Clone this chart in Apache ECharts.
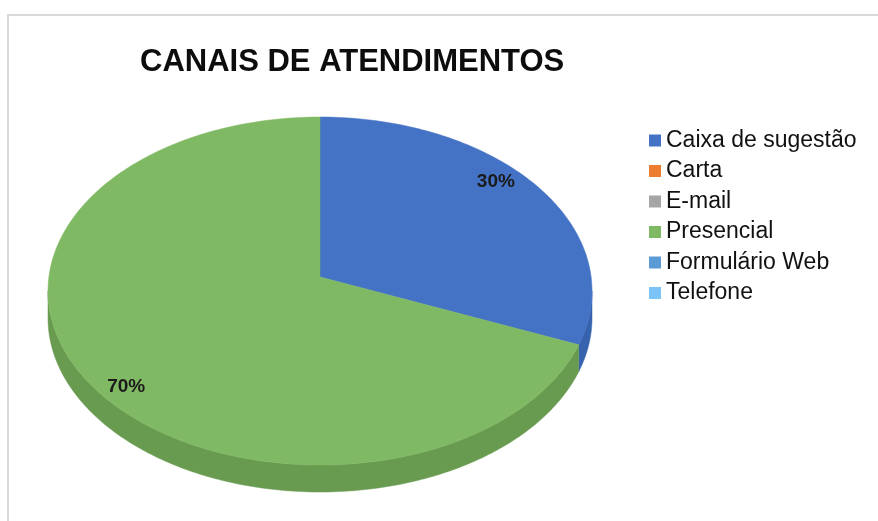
<!DOCTYPE html>
<html>
<head>
<meta charset="utf-8">
<script src="https://cdn.jsdelivr.net/npm/echarts@6/dist/echarts.min.js"></script>
<style>
  html, body { margin: 0; padding: 0; background: #fff; }
  #chart { width: 878px; height: 521px; }
</style>
</head>
<body>
<div id="chart"></div>
<script>
// dados do gráfico
const categories = ['Caixa de sugestão', 'Carta', 'E-mail', 'Presencial', 'Formulário Web', 'Telefone']
const values = [30, 0, 0, 70, 0, 0]

// cores (face superior / lateral)
const topColors = ['#4472C4', '#ED7D31', '#A5A5A5', '#80B964', '#5B9BD5', '#7CC4F8']
const sideColors = ['#3762AE', '#C8692A', '#8C8C8C', '#689B50', '#4C85B8', '#68A6D4']

// geometria da pizza 3D
const CX = 320, CY = 291, RX = 272, RY = 174, DEPTH = 27, APEX_Y = 277

const total = values.reduce((a, b) => a + b, 0)

function ellPt(deg, dy) {
  const r = deg * Math.PI / 180
  return [CX + RX * Math.sin(r), CY - RY * Math.cos(r) + (dy || 0)]
}

function arc(a1, a2, dy) {
  const pts = []
  const step = a2 >= a1 ? 1 : -1
  for (let a = a1; step > 0 ? a < a2 : a > a2; a += step) pts.push(ellPt(a, dy))
  pts.push(ellPt(a2, dy))
  return pts
}

function renderSlice(params, api) {
  const i = params.seriesIndex
  const v = api.value(0)
  if (!v) return { type: 'group', children: [] }
  const before = values.slice(0, i).reduce((a, b) => a + b, 0)
  const start = before / total * 360
  const end = start + v / total * 360
  const children = []

  // lateral (só a metade da frente)
  const s = Math.max(start, 90), e = Math.min(end, 270)
  if (s < e) {
    const pts = arc(s, e, 0).concat(arc(e, s, DEPTH))
    children.push({
      type: 'polygon',
      shape: { points: pts },
      style: { fill: sideColors[i], stroke: sideColors[i], lineWidth: 0.5 }
    })
  }

  // face superior
  const topPts = [[CX, APEX_Y]].concat(arc(start, end, 0))
  children.push({
    type: 'polygon',
    shape: { points: topPts },
    style: { fill: topColors[i], stroke: topColors[i], lineWidth: 0.5 }
  })

  // rótulo de porcentagem
  const mid = (start + end) / 2
  const r = mid * Math.PI / 180
  children.push({
    type: 'text',
    z2: 100,
    style: {
      x: CX - 9 + RX * 0.84 * Math.sin(r),
      y: CY - 7 - RY * Math.cos(r),
      text: Math.round(v / total * 100) + '%',
      fill: '#1a1a1a',
      font: 'bold 19px "Liberation Sans"',
      align: 'center',
      verticalAlign: 'middle'
    }
  })
  return { type: 'group', children: children }
}

const chart = echarts.init(document.getElementById('chart'))

const option = {
  backgroundColor: '#ffffff',
  animation: false,
  title: {
    text: 'CANAIS DE ATENDIMENTOS',
    left: 140,
    top: 47,
    padding: 0,
    textStyle: {
      fontFamily: 'Liberation Sans',
      fontWeight: 'bold',
      fontSize: 31,
      color: '#0d0d0d'
    }
  },
  legend: {
    data: categories,
    orient: 'vertical',
    left: 649,
    top: 129,
    padding: 0,
    icon: 'rect',
    itemWidth: 12,
    itemHeight: 12,
    itemGap: 7.5,
    itemTextGap: 13,
    selectedMode: false,
    textStyle: {
      fontFamily: 'Liberation Sans',
      fontSize: 23,
      lineHeight: 22,
      color: '#111'
    }
  },
  graphic: [{
    type: 'rect',
    shape: { x: 8, y: 15, width: 900, height: 600 },
    style: { fill: 'none', stroke: '#d9d9d9', lineWidth: 2 },
    silent: true
  }],
  series: categories.map((name, i) => ({
    type: 'custom',
    name: name,
    coordinateSystem: 'none',
    itemStyle: { color: topColors[i] },
    renderItem: renderSlice,
    data: [[values[i]]]
  }))
}

chart.setOption(option)
</script>
</body>
</html>
